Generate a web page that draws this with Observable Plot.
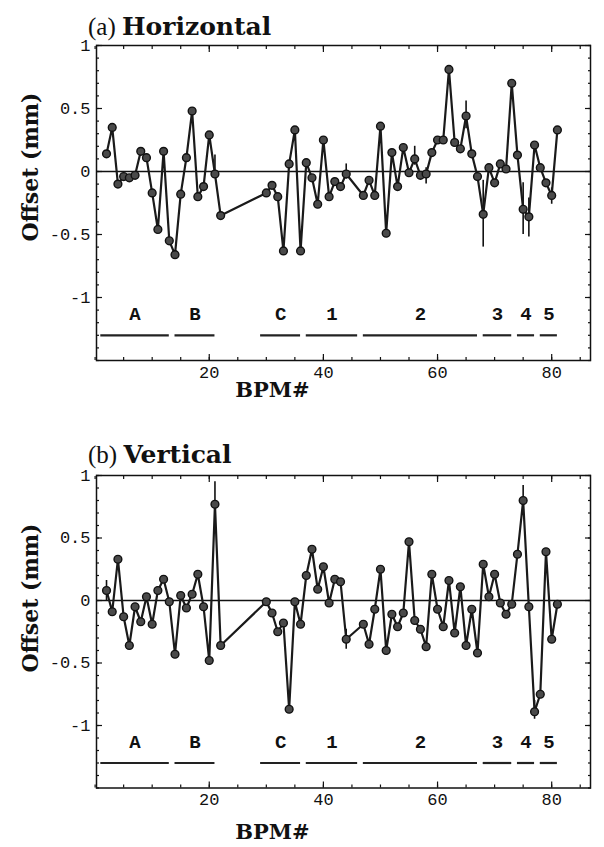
<!DOCTYPE html>
<html><head><meta charset="utf-8">
<script src="https://cdn.jsdelivr.net/npm/d3@7"></script>
<script src="https://cdn.jsdelivr.net/npm/@observablehq/plot@0.6"></script>
<style>
body{margin:0;background:#fff;}
#wrap{position:relative;width:604px;height:847px;overflow:hidden;background:#fff;}
.panel{position:absolute;left:0;}
.title{position:absolute;left:88px;font-size:25px;line-height:25px;color:#111;white-space:nowrap;}
.title .p{font-family:"Liberation Serif",serif;}
.title .b{font-family:"DejaVu Serif",serif;font-weight:bold;}
.ylab{position:absolute;font-family:"DejaVu Serif",serif;font-weight:bold;font-size:22px;line-height:22px;color:#111;white-space:nowrap;transform:translate(-50%,-50%) rotate(-90deg);}
</style>
</head><body>
<div id="wrap"></div>
<script>
// BPM numbers of the measured points
const bpm = [2,3,4,5,6,7,8,9,10,11,12,13,14,15,16,17,18,19,20,21,22,
  30,31,32,33,34,35,36,37,38,39,40,41,42,43,44,
  47,48,49,50,51,52,53,54,55,56,57,58,59,60,61,62,63,64,65,66,67,68,69,70,71,72,73,74,75,76,77,78,79,80,81];

// (a) Horizontal offset (mm)
const horizontal = [0.14,0.35,-0.10,-0.04,-0.05,-0.03,0.16,0.11,-0.17,-0.46,0.16,-0.55,-0.66,-0.18,0.11,0.48,-0.20,-0.12,0.29,-0.02,-0.35,
  -0.17,-0.11,-0.20,-0.63,0.06,0.33,-0.63,0.07,-0.05,-0.26,0.25,-0.20,-0.08,-0.12,-0.02,
  -0.19,-0.07,-0.19,0.36,-0.49,0.15,-0.12,0.19,-0.01,0.10,-0.03,-0.02,0.15,0.25,0.25,0.81,0.23,0.18,0.44,0.14,-0.04,-0.34,0.03,-0.09,0.06,0.02,0.70,0.13,-0.30,-0.36,0.21,0.03,-0.09,-0.19,0.33];

// (b) Vertical offset (mm)
const vertical = [0.08,-0.09,0.33,-0.13,-0.36,-0.05,-0.17,0.03,-0.19,0.08,0.17,-0.01,-0.43,0.04,-0.06,0.05,0.21,-0.05,-0.48,0.77,-0.36,
  -0.01,-0.10,-0.25,-0.18,-0.87,-0.01,-0.19,0.20,0.41,0.09,0.27,-0.02,0.17,0.15,-0.31,
  -0.19,-0.35,-0.07,0.25,-0.40,-0.11,-0.21,-0.10,0.47,-0.16,-0.23,-0.37,0.21,-0.07,-0.21,0.16,-0.26,0.11,-0.36,-0.07,-0.42,0.29,0.03,0.21,-0.02,-0.11,-0.03,0.37,0.80,-0.05,-0.89,-0.75,0.39,-0.31,-0.03];

// error bars
const hErrBpm = [21,44,56,58,65,68,75,76,80];
const hErrLo  = [-0.02,-0.06,0.05,-0.10,0.34,-0.60,-0.50,-0.52,-0.26];
const hErrHi  = [0.13,0.06,0.20,0.03,0.56,-0.07,-0.09,-0.21,-0.13];
const vErrBpm = [2,21,44,75,77];
const vErrLo  = [0.00,0.60,-0.39,0.68,-0.95];
const vErrHi  = [0.16,0.95,-0.23,0.92,-0.80];

// machine sections
const segName  = ["A","B","C","1","2","3","4","5"];
const segStart = [1,14,29,37,47,68,74,78];
const segEnd   = [13,21,36,46,67,73,77,81];

// ticks
const yMajor = [1,0.5,0,-0.5,-1];
const xMajor = [20,40,60,80];
const xTitle = "BPM#";

const yMinor = d3.range(-15,11).map(d=>d/10);
const xMinor = d3.range(0,90,5);

const segs = segName.map((n,i)=>({n, s:segStart[i], e:segEnd[i]}));

function panel(values, eB, eLo, eHi, mb, labDy) {
  const data = bpm.map((b,i)=>({b, v:values[i]}));
  const errs = eB.map((b,i)=>({b, lo:eLo[i], hi:eHi[i]}));
  const tk = {stroke:"#111", strokeWidth:1.2, label:null, fill:"none"};
  return Plot.plot({
    width:604, height:400,
    marginLeft:96, marginRight:14, marginTop:45, marginBottom:mb,
    x:{domain:[0.245,86.8]},
    y:{domain:[-1.5,1]},
    style:{fontFamily:"Liberation Mono, monospace", fontSize:"17px", color:"#111", background:"transparent", overflow:"visible"},
    marks:[
      Plot.frame({stroke:"#111", strokeWidth:1.5}),
      Plot.ruleY([0], {stroke:"#111", strokeWidth:1.5}),
      Plot.axisY(yMajor, {...tk, anchor:"left", tickSize:6, dx:6}),
      Plot.axisY(yMinor, {...tk, anchor:"left", tickSize:3, dx:3}),
      Plot.axisY(yMajor, {...tk, anchor:"right", tickSize:6, dx:-6}),
      Plot.axisY(yMinor, {...tk, anchor:"right", tickSize:3, dx:-3}),
      Plot.axisX(xMajor, {...tk, anchor:"bottom", tickSize:6, dy:-6}),
      Plot.axisX(xMinor, {...tk, anchor:"bottom", tickSize:3, dy:-3}),
      Plot.axisX(xMajor, {...tk, anchor:"top", tickSize:6, dy:6}),
      Plot.axisX(xMinor, {...tk, anchor:"top", tickSize:3, dy:3}),
      Plot.axisY(yMajor, {anchor:"left", tickSize:0, tickPadding:6, label:null, tickFormat:d=>String(d), fill:"#111"}),
      Plot.text(xMajor, {x:d=>d, frameAnchor:"bottom", dy:12, text:d=>String(d), lineAnchor:"middle",
        fontFamily:"Liberation Mono, monospace", fontSize:17, fill:"#111"}),
      Plot.text([xTitle], {frameAnchor:"bottom-left", dx:176, dy:labDy, text:d=>d, textAnchor:"middle", lineAnchor:"middle",
        fontFamily:"DejaVu Serif, serif", fontWeight:"bold", fontSize:21, fill:"#111"}),
      Plot.ruleX(errs, {x:"b", y1:"lo", y2:"hi", stroke:"#111", strokeWidth:1.6}),
      Plot.line(data, {x:"b", y:"v", stroke:"#1a1a1a", strokeWidth:2.2}),
      Plot.dot(data, {x:"b", y:"v", r:3.9, fill:"#4a4a4a", stroke:"#111", strokeWidth:1.4}),
      Plot.ruleY(segs, {x1:"s", x2:"e", y:-1.3, stroke:"#222", strokeWidth:2.2}),
      Plot.text(segs, {x:d=>(d.s+d.e)/2, y:-1.13, text:"n", fontWeight:"bold", fontSize:19, fontFamily:"Liberation Mono, monospace", fill:"#111"})
    ]
  });
}

const wrap = document.getElementById("wrap");
function place(el, top) { el.classList.add("panel"); el.style.top = top + "px"; wrap.appendChild(el); }
place(panel(vertical, vErrBpm, vErrLo, vErrHi, 42.5, 44), 430);
place(panel(horizontal, hErrBpm, hErrLo, hErrHi, 40, 30), 0);

function addDiv(cls, html, x, y) {
  const d = document.createElement("div");
  d.className = cls; d.innerHTML = html;
  if (x !== null) d.style.left = x + "px";
  d.style.top = y + "px";
  wrap.appendChild(d);
}
addDiv("title", '<span class="p">(a)</span> <span class="b">Horizontal</span>', null, 14);
addDiv("title", '<span class="p">(b)</span> <span class="b">Vertical</span>', null, 442);
addDiv("ylab", "Offset (mm)", 30, 167);
addDiv("ylab", "Offset (mm)", 30, 598);
</script>
</body></html>
